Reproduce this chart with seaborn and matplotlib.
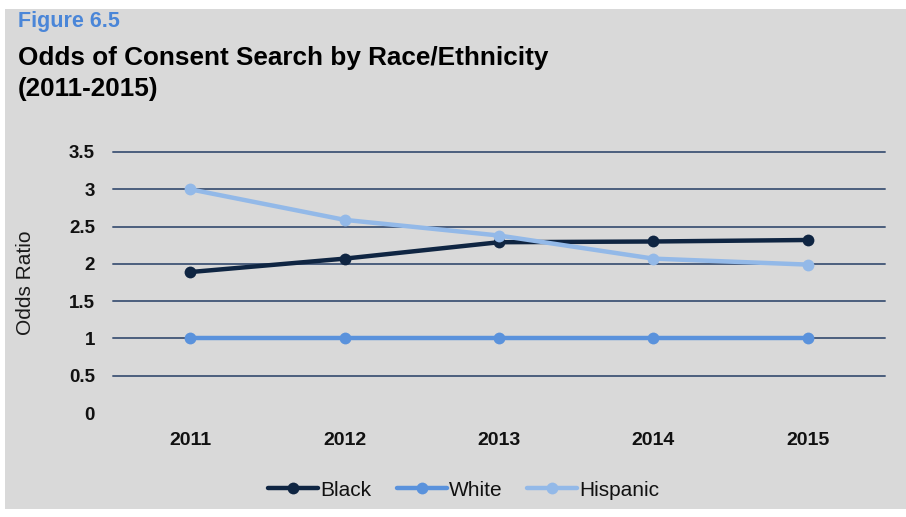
import matplotlib
matplotlib.use("Agg")
import matplotlib.pyplot as plt
import matplotlib.patches as mpatches
import seaborn as sns
import pandas as pd

years = [2011, 2012, 2013, 2014, 2015]
black = [1.89, 2.07, 2.29, 2.30, 2.32]
white = [1.0, 1.0, 1.0, 1.0, 1.0]
hispanic = [3.0, 2.59, 2.38, 2.07, 1.99]
groups = ["Black", "White", "Hispanic"]
colors = ["#0f2542", "#5a92dc", "#93b9e8"]
y_ticks = [0, 0.5, 1, 1.5, 2, 2.5, 3, 3.5]
y_tick_labels = ["0", "0.5", "1", "1.5", "2", "2.5", "3", "3.5"]

df = pd.DataFrame({
    "Year": years * 3,
    "Odds": black + white + hispanic,
    "Group": [g for g in groups for _ in years],
})

sns.set_theme(style="white")
plt.rcParams["font.family"] = ["Liberation Sans", "DejaVu Sans"]

bg = "#d9d9d9"
fig = plt.figure(figsize=(9.06, 5.17), dpi=100)
fig.patch.set_facecolor("white")
fig.patches.append(mpatches.Rectangle((5 / 906, 8 / 517), 1 - 5 / 906, 1 - 17 / 517,
                                      transform=fig.transFigure, facecolor=bg,
                                      edgecolor="none", zorder=-5))

ax = fig.add_axes([113 / 906, 1 - 413 / 517, (885 - 113) / 906, (413 - 152) / 517])
ax.set_facecolor("none")
ax.set_zorder(2)

sns.lineplot(data=df, x="Year", y="Odds", hue="Group", hue_order=groups,
             palette=colors, marker="o", markersize=8.5, markeredgewidth=0,
             linewidth=3.2, ax=ax, legend=True)

ax.set_xlim(2010.5, 2015.5)
ax.set_ylim(0, 3.5)
ax.set_xticks(years)
ax.set_xticklabels([str(y) for y in years], fontsize=14, fontweight="bold",
                   color="#111111")
ax.set_yticks(y_ticks)
ax.set_yticklabels(y_tick_labels, fontsize=13.5, fontweight="bold", color="#111111")
ax.tick_params(axis="both", length=0)
ax.tick_params(axis="x", pad=14)
ax.tick_params(axis="y", pad=13)
for v in y_ticks[1:]:
    ax.axhline(v, color="#4b5e7d", linewidth=1.4, zorder=0.5)
for s in ax.spines.values():
    s.set_visible(False)
ax.set_xlabel("")
ax.set_ylabel("Odds Ratio", fontsize=15, color="#1a1a1a")
ax.yaxis.set_label_coords((35 - 113) / (885 - 113), 0.5)
for line in ax.lines:
    line.set_clip_on(False)

handles, labels = ax.get_legend_handles_labels()
ax.get_legend().remove()
leg = fig.legend(handles, labels, loc="center", bbox_to_anchor=(464 / 906, 1 - 490 / 517),
                 ncol=3, frameon=False, fontsize=15, handlelength=2.4,
                 handletextpad=0.1, columnspacing=1.2)
for t in leg.get_texts():
    t.set_color("#111111")

fig.text(18 / 906, 1 - 22 / 517, "Figure 6.5", color="#4a86d8", fontsize=15.5,
         fontweight="bold", va="center", ha="left")
fig.text(18 / 906, 1 - 58 / 517, "Odds of Consent Search by Race/Ethnicity",
         color="black", fontsize=18.8, fontweight="bold", va="center", ha="left")
fig.text(18 / 906, 1 - 89 / 517, "(2011-2015)", color="black", fontsize=18.8,
         fontweight="bold", va="center", ha="left")

fig.savefig("out.png", dpi=100)
